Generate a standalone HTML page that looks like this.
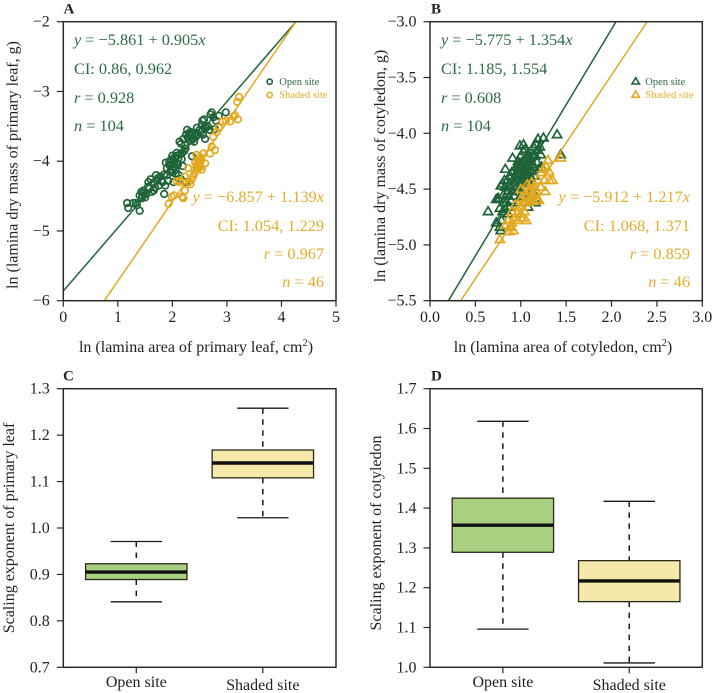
<!DOCTYPE html>
<html>
<head>
<meta charset="utf-8">
<title>Scaling relationships of lamina mass and area</title>
<style>
html,body{margin:0;padding:0;background:#fff;}
svg{display:block;font-family:"Liberation Serif",serif;}
.stat{font-size:16.3px;}
.g{fill:#2a6b45;}
.y{fill:#e2ad2c;}
.tick{font-size:16px;fill:#222;}
.title{font-size:16px;fill:#222;}
.letter{font-size:15px;font-weight:bold;fill:#222;}
.leg{font-size:10.5px;}
</style>
</head>
<body>
<svg id="fig" xmlns="http://www.w3.org/2000/svg" width="715" height="693" viewBox="0 0 715 693">
<defs>
<clipPath id="clipA"><rect x="63.3" y="21.7" width="272.7" height="279"/></clipPath>
<clipPath id="clipB"><rect x="430" y="21.7" width="272.3" height="279"/></clipPath>
</defs>
<g id="A"></g>
<g id="B"></g>
<g id="C"></g>
<g id="D"></g>

<text class="letter" x="63.5" y="13.5">A</text>
<text class="letter" x="431" y="13.5">B</text>
<text class="letter" x="63" y="380.5">C</text>
<text class="letter" x="431" y="380.5">D</text>

<text class="title" x="196" y="352" text-anchor="middle">ln (lamina area of primary leaf, cm<tspan dy="-6" font-size="10.5">2</tspan><tspan dy="6">)</tspan></text>
<text class="title" x="563" y="352" text-anchor="middle">ln (lamina area of cotyledon, cm<tspan dy="-6" font-size="10.5">2</tspan><tspan dy="6">)</tspan></text>
<text class="title" transform="translate(17.5,165) rotate(-90)" text-anchor="middle">ln (lamina dry mass of primary leaf, g)</text>
<text class="title" transform="translate(385,166) rotate(-90)" text-anchor="middle">ln (lamina dry mass of cotyledon, g)</text>
<text class="title" transform="translate(14,528) rotate(-90)" text-anchor="middle">Scaling exponent of primary leaf</text>
<text class="title" transform="translate(381,533) rotate(-90)" text-anchor="middle">Scaling exponent of cotyledon</text>

<g>
<text class="stat g" x="74" y="45"><tspan font-style="italic">y</tspan> = −5.861 + 0.905<tspan font-style="italic">x</tspan></text>
<text class="stat g" x="74" y="74">CI: 0.86, 0.962</text>
<text class="stat g" x="74" y="103"><tspan font-style="italic">r</tspan> = 0.928</text>
<text class="stat g" x="74" y="131"><tspan font-style="italic">n</tspan> = 104</text>
</g>
<g text-anchor="end">
<text class="stat y" x="324" y="202"><tspan font-style="italic">y</tspan> = −6.857 + 1.139<tspan font-style="italic">x</tspan></text>
<text class="stat y" x="324" y="231">CI: 1.054, 1.229</text>
<text class="stat y" x="324" y="259"><tspan font-style="italic">r</tspan> = 0.967</text>
<text class="stat y" x="324" y="287"><tspan font-style="italic">n</tspan> = 46</text>
</g>
<g>
<text class="stat g" x="441" y="45"><tspan font-style="italic">y</tspan> = −5.775 + 1.354<tspan font-style="italic">x</tspan></text>
<text class="stat g" x="441" y="74">CI: 1.185, 1.554</text>
<text class="stat g" x="441" y="103"><tspan font-style="italic">r</tspan> = 0.608</text>
<text class="stat g" x="441" y="131"><tspan font-style="italic">n</tspan> = 104</text>
</g>
<g text-anchor="end">
<text class="stat y" x="690" y="202"><tspan font-style="italic">y</tspan> = −5.912 + 1.217<tspan font-style="italic">x</tspan></text>
<text class="stat y" x="690" y="231">CI: 1.068, 1.371</text>
<text class="stat y" x="690" y="259"><tspan font-style="italic">r</tspan> = 0.859</text>
<text class="stat y" x="690" y="287"><tspan font-style="italic">n</tspan> = 46</text>
</g>

<g>
<circle cx="269.7" cy="81.7" r="2.6" fill="none" stroke="#1f6339" stroke-width="1.6"/>
<text class="leg g" x="279.3" y="85">Open site</text>
<circle cx="269.7" cy="95" r="2.6" fill="none" stroke="#e2a91f" stroke-width="1.6"/>
<text class="leg y" x="279.3" y="98">Shaded site</text>
</g>
<g>
<path d="M635.7 77.7 L639.4 84 L632 84 Z" fill="none" stroke="#1f6339" stroke-width="1.6"/>
<text class="leg g" x="645.3" y="85">Open site</text>
<path d="M635.7 91 L639.4 97.3 L632 97.3 Z" fill="none" stroke="#e2a91f" stroke-width="1.6"/>
<text class="leg y" x="645.3" y="98">Shaded site</text>
</g>
</svg>
<script>
var aOpen = [[1.17,-4.6],[1.19,-4.67],[1.28,-4.6],[1.33,-4.6],[1.35,-4.63],[1.4,-4.71],[1.4,-4.49],[1.43,-4.44],[1.45,-4.5],[1.47,-4.42],[1.5,-4.52],[1.52,-4.47],[1.55,-4.37],[1.58,-4.39],[1.6,-4.26],[1.62,-4.44],[1.65,-4.31],[1.68,-4.38],[1.7,-4.2],[1.72,-4.28],[1.75,-4.35],[1.78,-4.22],[1.8,-4.28],[1.82,-4.3],[1.85,-4.47],[1.85,-4.19],[1.87,-4.35],[1.88,-4.02],[1.9,-4.1],[1.92,-4.28],[1.95,-4.06],[1.96,-4.15],[1.98,-4.05],[2.0,-4.12],[2.0,-3.92],[2.02,-4.3],[2.03,-4.02],[2.04,-4.08],[2.05,-3.97],[2.06,-4.12],[2.07,-4.02],[2.08,-3.88],[2.1,-4.05],[2.11,-3.96],[2.12,-4.2],[2.13,-3.72],[2.14,-3.9],[2.15,-4.25],[2.16,-3.75],[2.18,-3.88],[2.19,-4.07],[2.2,-3.68],[2.22,-3.85],[2.23,-3.77],[2.25,-4.3],[2.25,-3.62],[2.27,-3.55],[2.3,-3.6],[2.32,-3.62],[2.33,-3.58],[2.35,-3.7],[2.36,-3.93],[2.37,-3.6],[2.38,-3.68],[2.4,-3.72],[2.42,-3.6],[2.43,-3.65],[2.45,-3.52],[2.47,-3.62],[2.5,-3.55],[2.52,-3.58],[2.54,-3.48],[2.55,-3.42],[2.56,-3.62],[2.58,-3.4],[2.6,-3.68],[2.6,-3.5],[2.62,-3.52],[2.65,-3.5],[2.68,-3.55],[2.7,-3.33],[2.72,-3.3],[2.75,-3.37],[2.78,-3.54],[2.8,-3.42],[2.85,-3.35],[2.98,-3.3],[1.94,-4.02],[1.97,-3.98],[2.01,-4.08],[2.04,-3.94],[2.06,-4.18],[2.09,-3.92],[1.9,-4.2],[1.99,-4.16],[2.17,-3.97],[2.24,-3.82],[2.28,-3.66],[2.34,-3.64],[1.74,-4.24],[1.66,-4.42],[1.56,-4.3],[1.48,-4.46],[1.44,-4.53]];
var aShaded = [[1.93,-4.61],[1.99,-4.51],[2.03,-4.49],[2.18,-4.51],[2.2,-4.53],[2.23,-4.42],[2.08,-4.29],[2.14,-4.28],[2.33,-4.33],[2.35,-4.27],[2.23,-4.22],[2.29,-4.1],[2.41,-4.17],[2.44,-4.08],[2.44,-3.91],[2.38,-4.22],[2.42,-4.02],[2.46,-4.12],[2.47,-3.98],[2.48,-4.06],[2.5,-4.02],[2.5,-3.94],[2.52,-4.08],[2.53,-3.98],[2.54,-4.12],[2.5,-4.06],[2.52,-4.0],[2.6,-4.03],[2.57,-3.89],[2.69,-3.89],[2.72,-3.79],[2.78,-3.84],[2.75,-3.65],[2.81,-3.58],[2.92,-3.43],[3.06,-3.43],[3.15,-3.34],[3.2,-3.4],[3.19,-3.15],[3.22,-3.08],[2.13,-4.3],[2.3,-4.3],[2.45,-4.05],[2.85,-3.52],[2.98,-3.42],[3.12,-3.36]];
var bOpen = [[0.64,-4.7],[0.73,-4.59],[0.73,-4.8],[0.77,-4.84],[0.78,-4.87],[0.83,-4.32],[1.4,-4.01],[1.44,-4.19],[1.25,-4.04],[1.19,-4.05],[0.99,-4.11],[1.03,-4.1],[0.76,-4.59],[0.77,-4.67],[0.78,-4.47],[0.8,-4.7],[0.8,-4.45],[0.81,-4.55],[0.82,-4.42],[0.83,-4.48],[0.84,-4.62],[0.85,-4.42],[0.86,-4.72],[0.87,-4.46],[0.88,-4.38],[0.89,-4.6],[0.9,-4.52],[0.9,-4.35],[0.91,-4.22],[0.92,-4.44],[0.93,-4.56],[0.94,-4.38],[0.95,-4.48],[0.95,-4.3],[0.96,-4.42],[0.97,-4.62],[0.97,-4.25],[0.98,-4.36],[0.99,-4.5],[1.0,-4.32],[1.0,-4.2],[1.01,-4.42],[1.02,-4.28],[1.02,-4.36],[1.03,-4.16],[1.03,-4.56],[1.04,-4.32],[1.04,-4.24],[1.05,-4.38],[1.05,-4.14],[1.06,-4.3],[1.06,-4.46],[1.07,-4.22],[1.07,-4.34],[1.08,-4.28],[1.08,-4.18],[1.08,-4.66],[1.09,-4.36],[1.09,-4.26],[1.1,-4.32],[1.1,-4.22],[1.11,-4.4],[1.12,-4.28],[1.13,-4.2],[1.13,-4.52],[1.14,-4.12],[1.15,-4.3],[1.15,-4.38],[1.16,-4.2],[1.17,-4.1],[1.18,-4.26],[1.18,-4.58],[1.19,-4.15],[1.2,-4.32],[1.21,-4.12],[1.22,-4.19],[1.23,-4.3],[1.02,-4.44],[0.94,-4.5],[0.86,-4.52],[0.83,-4.68],[0.92,-4.34],[1.0,-4.38],[1.04,-4.3],[0.98,-4.28],[1.06,-4.36],[1.01,-4.26],[1.09,-4.2],[0.89,-4.48],[0.96,-4.34],[1.12,-4.34],[1.07,-4.42],[0.81,-4.62],[0.88,-4.66],[0.93,-4.44],[1.0,-4.56],[1.05,-4.5],[1.11,-4.6],[1.16,-4.62],[0.75,-4.58],[0.79,-4.78],[0.85,-4.54],[0.99,-4.4],[1.03,-4.34]];
var bShaded = [[0.77,-4.95],[0.83,-4.82],[0.86,-4.78],[0.87,-4.88],[0.9,-4.7],[0.9,-4.8],[0.92,-4.87],[0.93,-4.76],[0.96,-4.72],[0.97,-4.78],[0.99,-4.66],[1.0,-4.72],[1.0,-4.5],[1.01,-4.58],[1.02,-4.76],[1.03,-4.62],[1.04,-4.7],[1.05,-4.55],[1.06,-4.78],[1.07,-4.46],[1.08,-4.62],[1.09,-4.52],[1.1,-4.58],[1.12,-4.44],[1.13,-4.54],[1.14,-4.6],[1.15,-4.48],[1.17,-4.52],[1.18,-4.6],[1.19,-4.42],[1.2,-4.6],[1.22,-4.48],[1.23,-4.35],[1.25,-4.32],[1.26,-4.42],[1.27,-4.52],[1.28,-4.3],[1.3,-4.24],[1.31,-4.34],[1.32,-4.42],[1.35,-4.42],[0.94,-4.64],[1.05,-4.62],[1.11,-4.5],[0.88,-4.84],[1.44,-4.22]];
var lineA = {open:[-5.861,0.905], shaded:[-6.857,1.139]};
var lineB = {open:[-5.775,1.354], shaded:[-5.912,1.217]};
var xTicksA = [0,1,2,3,4,5];
var yTicksA = [-2,-3,-4,-5,-6];
var xTicksB = ["0.0","0.5","1.0","1.5","2.0","2.5","3.0"];
var yTicksB = ["-3.0","-3.5","-4.0","-4.5","-5.0","-5.5"];
var yTicksC = ["0.7","0.8","0.9","1.0","1.1","1.2","1.3"];
var yTicksD = ["1.0","1.1","1.2","1.3","1.4","1.5","1.6","1.7"];
var categories = ["Open site","Shaded site"];
var boxC = [[0.841,0.889,0.905,0.923,0.971],[1.022,1.108,1.14,1.168,1.258]];
var boxD = [[1.096,1.289,1.357,1.425,1.618],[1.011,1.165,1.217,1.268,1.417]];

var NS = "http://www.w3.org/2000/svg";
var DARK = "#2a2a2a", GREEN = "#1f6339", GOLD = "#e2a91f";
function mk(parent, tag, attrs){
  var el = document.createElementNS(NS, tag);
  for (var k in attrs) el.setAttribute(k, attrs[k]);
  parent.appendChild(el);
  return el;
}
function scale(d0, d1, p0, p1){
  return function(v){ return p0 + (v - d0) * (p1 - p0) / (d1 - d0); };
}
function minusText(s){ return String(s).replace("-", "\u2212"); }

function frame(g, x0, x1, y0, y1, sx, sy, xt, yt){
  yt.forEach(function(t){
    var py = sy(parseFloat(t));
    var tk = mk(g, "line", {x1:x0-6.5, x2:x0, y1:py, y2:py, stroke:DARK, "stroke-width":1.2});
    
    
    var lb = mk(g, "text", {x:x0-13.5, y:py+5, "text-anchor":"end", "class":"tick"});
    lb.textContent = minusText(t);
    
    
  });
  xt.forEach(function(t){
    var px = sx(parseFloat(t));
    var tk = mk(g, "line", {x1:px, x2:px, y1:y1, y2:y1+6, stroke:DARK, "stroke-width":1.2});
    
    
    var lb = mk(g, "text", {x:px, y:322, "text-anchor":"middle", "class":"tick"});
    lb.textContent = t;
    
    
  });
}
function border(g, x0, x1, y0, y1){
  var r = mk(g, "rect", {x:x0, y:y0, width:x1-x0, height:y1-y0, fill:"none", stroke:DARK, "stroke-width":1.5});
  
  
}
function fitLine(g, coef, color, sx, sy, xMax, clip, name){
  var l = mk(g, "line", {x1:sx(0), y1:sy(coef[0]), x2:sx(xMax), y2:sy(coef[0]+coef[1]*xMax), stroke:color, "stroke-width":1.5, "clip-path":"url(#"+clip+")"});
  
  
}
function circles(g, pts, color, sx, sy, name){
  pts.forEach(function(p){
    var c = mk(g, "circle", {cx:sx(p[0]), cy:sy(p[1]), r:3.3, fill:"none", stroke:color, "stroke-width":1.7});
    
    
  });
}
function triangles(g, pts, color, sx, sy, name){
  pts.forEach(function(p){
    var x = sx(p[0]), y = sy(p[1]);
    var t = mk(g, "path", {d:"M"+x+" "+(y-4.6)+" L"+(x+4.6)+" "+(y+3.2)+" L"+(x-4.6)+" "+(y+3.2)+" Z", fill:"none", stroke:color, "stroke-width":1.7});
    
    
  });
}
function boxes(g, data, sy, x0, x1, yBottom, fills){
  var centers = [x0 + (x1-x0)*0.2677, x0 + (x1-x0)*0.7317];
  data.forEach(function(b, i){
    var cx = centers[i], name = i === 0 ? 'open-site' : 'shaded-site';
    var w1 = mk(g, "line", {x1:cx, x2:cx, y1:sy(b[4]), y2:sy(b[3]), stroke:"#1a1a1a", "stroke-width":1.5, "stroke-dasharray":"5.5 5.5"});
    
    
    var w2 = mk(g, "line", {x1:cx, x2:cx, y1:sy(b[1]), y2:sy(b[0]), stroke:"#1a1a1a", "stroke-width":1.5, "stroke-dasharray":"5.5 5.5"});
    
    
    [b[0], b[4]].forEach(function(v){
      var c = mk(g, "line", {x1:cx-25.7, x2:cx+25.7, y1:sy(v), y2:sy(v), stroke:"#1a1a1a", "stroke-width":1.3});
      
      
    });
    var r = mk(g, "rect", {x:cx-50.7, width:101.4, y:sy(b[3]), height:sy(b[1])-sy(b[3]), fill:fills[i], stroke:"#2a2a1a", "stroke-width":1.3});
    
    
    var m = mk(g, "line", {x1:cx-50.7, x2:cx+50.7, y1:sy(b[2]), y2:sy(b[2]), stroke:"#111", "stroke-width":3.4});
    
    
    var tk = mk(g, "line", {x1:cx, x2:cx, y1:yBottom, y2:yBottom+6, stroke:DARK, "stroke-width":1.2});
    
    
    var lb = mk(g, "text", {x:cx, y: i === 0 ? 687 : 690, "text-anchor":"middle", "class":"tick"});
    lb.textContent = categories[i];
    
    
  });
}

(function(){
  var T = 21.7, Bt = 300.7, T2 = 388.7, B2 = 667.3;
  var gA = document.getElementById("A");
  var ax = scale(0,5,63.3,336), ay = scale(-2,-6,T,Bt);
  frame(gA, 63.3, 336, T, Bt, ax, ay, xTicksA, yTicksA);
  circles(gA, aOpen, GREEN, ax, ay, 'open-site-point');
  circles(gA, aShaded, GOLD, ax, ay, 'shaded-site-point');
  fitLine(gA, lineA.open, GREEN, ax, ay, 5, "clipA", 'open-site-fit-line');
  fitLine(gA, lineA.shaded, GOLD, ax, ay, 5, "clipA", 'shaded-site-fit-line');
  border(gA, 63.3, 336, T, Bt);

  var gB = document.getElementById("B");
  var bx = scale(0,3,430,702.3), by = scale(-3,-5.5,T,Bt);
  frame(gB, 430, 702.3, T, Bt, bx, by, xTicksB, yTicksB);
  triangles(gB, bOpen, GREEN, bx, by, 'open-site-point');
  triangles(gB, bShaded, GOLD, bx, by, 'shaded-site-point');
  fitLine(gB, lineB.open, GREEN, bx, by, 3, "clipB", 'open-site-fit-line');
  fitLine(gB, lineB.shaded, GOLD, bx, by, 3, "clipB", 'shaded-site-fit-line');
  border(gB, 430, 702.3, T, Bt);

  var fills = ["#a9cf80", "#f5e9aa"];
  var gC = document.getElementById("C");
  var cy = scale(0.7,1.3,B2,T2);
  frame(gC, 63.3, 336, T2, B2, ax, cy, [], yTicksC);
  boxes(gC, boxC, cy, 63.3, 336, B2, fills);
  border(gC, 63.3, 336, T2, B2);

  var gD = document.getElementById("D");
  var dy = scale(1.0,1.7,B2,T2);
  frame(gD, 430, 702.3, T2, B2, bx, dy, [], yTicksD);
  boxes(gD, boxD, dy, 430, 702.3, B2, fills);
  border(gD, 430, 702.3, T2, B2);
})();
</script>
</body>
</html>
